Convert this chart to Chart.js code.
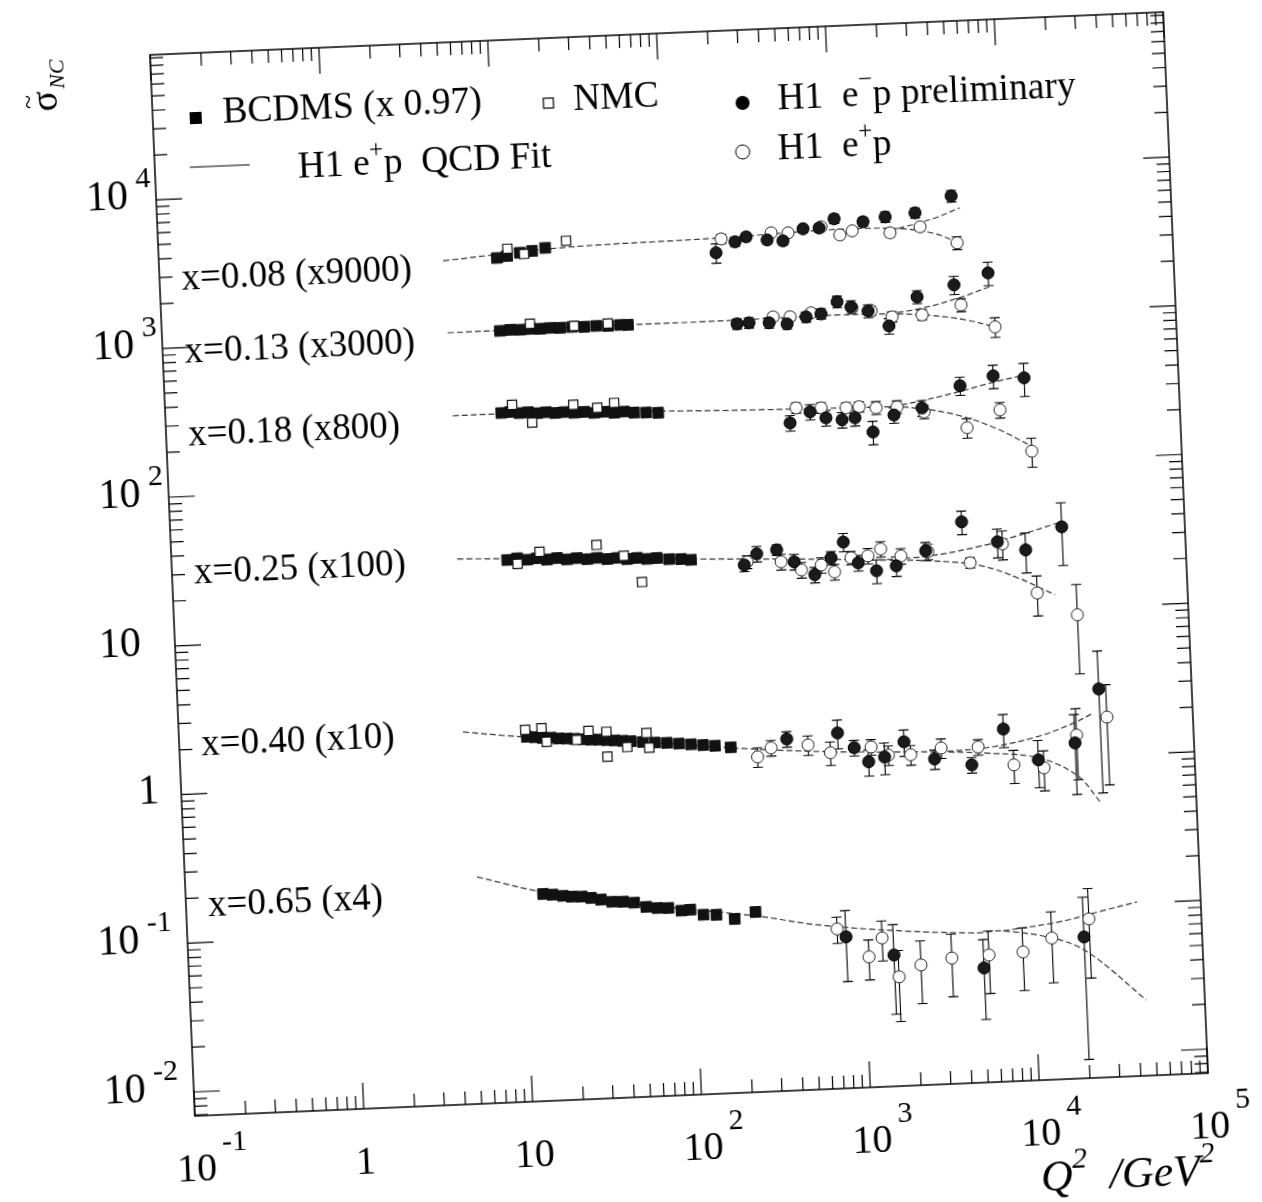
<!DOCTYPE html>
<html>
<head>
<meta charset="utf-8">
<script src="https://cdn.jsdelivr.net/npm/chart.js@4/dist/chart.umd.min.js"></script>
<style>
  html, body { margin: 0; padding: 0; background: #fff; width: 1262px; height: 1202px; overflow: hidden; }
  #wrap { position: absolute; left: 0; top: 0; width: 1262px; height: 1262px;
          transform: rotate(-2.42deg); transform-origin: 679px 564px; }
  canvas { display: block; }
</style>
</head>
<body>
<div id="wrap"><canvas id="chart" width="1262" height="1262"></canvas></div>
<script>
// axis ranges
const X_MIN = 0.1, X_MAX = 1e5;
const Y_MIN = 0.0069, Y_MAX = 94400;

// tick labels
const xTickValues = [0.1, 1, 10, 100, 1000, 10000, 100000];
const xTickBase = ['10', '1', '10', '10', '10', '10', '10'];
const xTickExp = ['-1', '', '', '2', '3', '4', '5'];
const yTickValues = [0.01, 0.1, 1, 10, 100, 1000, 10000];
const yTickBase = ['10', '10', '1', '10', '10', '10', '10'];
const yTickExp = ['-2', '-1', '', '', '2', '3', '4'];

// x bins
const rowLabels = ['x=0.08 (x9000)', 'x=0.13 (x3000)', 'x=0.18 (x800)', 'x=0.25 (x100)', 'x=0.40 (x10)', 'x=0.65 (x4)'];
const rowLabelSigma = [2850, 921, 255, 30.2, 2.11, 0.173];
const rowLabelQ2 = 0.135;

// BCDMS  [Q2, sigma]
const bcdms08 = [[10.0,3260],[11.5,3340],[13.7,3480],[16.2,3550],[19.4,3690]];
const bcdms13 = [[10.0,1054],[11.5,1064],[13.2,1058],[15.1,1066],[17.3,1060],[19.8,1068],[22.7,1062],[26.7,1069],[31.5,1062],[37.1,1069],[43.6,1061],[51.4,1069],[57.3,1064]];
const bcdms18 = [[9.7,296],[11.0,299],[12.4,292],[14.0,294],[15.8,288],[17.9,291],[20.2,286],[22.9,288],[26.2,283],[30.1,285],[34.4,279],[39.4,282],[45.2,276],[51.8,279],[59.3,273],[69.8,271],[82.2,268]];
const bcdms25 = [[9.66,30.4],[11.1,31.0],[12.7,30.1],[14.5,30.6],[16.6,29.8],[19.1,30.3],[21.8,29.5],[25.0,29.9],[28.7,29.2],[32.9,29.6],[37.7,28.9],[43.2,29.2],[49.4,28.5],[56.6,28.8],[64.9,28.2],[74.3,28.4],[87.5,27.7],[103,27.5],[118,27.0]];
const bcdms40 = [[11.4,1.95],[12.7,1.93],[14.1,1.90],[15.8,1.89],[17.6,1.86],[19.6,1.85],[21.8,1.83],[24.4,1.81],[27.2,1.79],[30.3,1.78],[33.7,1.76],[37.6,1.74],[42.0,1.72],[46.8,1.70],[55.1,1.67],[64.9,1.64],[76.4,1.62],[90.0,1.59],[106,1.56],[125,1.53],[147,1.50],[182,1.45]];
const bcdms65 = [[13.0,0.170],[14.8,0.167],[17.0,0.163],[19.2,0.160],[22.0,0.159],[24.9,0.155],[28.5,0.150],[33.1,0.144],[38.5,0.143],[44.7,0.140],[52.6,0.130],[61.1,0.127],[71.0,0.126],[84.7,0.120],[95.7,0.121],[114,0.111],[136,0.110],[174,0.102],[232,0.112]];

// NMC  [Q2, sigma]
const nmc08 = [[11.6,3730],[14.5,3410],[25.9,4060]];
const nmc13 = [[15.1,1152],[27.5,1085],[43.6,1100]];
const nmc18 = [[11.3,333],[14.7,250],[26,320],[36,301],[45.4,321]];
const nmc25 = [[11.1,28.4],[15.1,33.7],[32.9,36.2],[47.4,30.0],[59.8,19.8]];
const nmc40 = [[11.2,2.17],[14.0,2.21],[14.9,1.78],[22.5,1.80],[26.5,2.05],[33.8,2.00],[33.8,1.36],[44.5,1.56],[58.3,1.91],[60.0,1.52]];

// H1 e-p preliminary  [Q2, sigma, relative error]
const em08 = [[198,3060,0.15],[258,3580,0.07],[301,3840,0.06],[400,3610,0.06],[496,3520,0.06],[656,4190,0.06],[817,4200,0.06],[1007,4790,0.07],[1490,4490,0.07],[2020,4770,0.08],[3040,4980,0.08],[5020,6320,0.09]];
const em13 = [[253,1006,0.08],[298,1014,0.08],[392,1001,0.08],[500,973,0.08],[650,1071,0.08],[798,1111,0.08],[1000,1325,0.09],[1205,1214,0.1],[1517,1128,0.1],[2000,883,0.12],[2980,1357,0.1],[4960,1595,0.14],[7940,1878,0.18]];
const em18 = [[492,210,0.12],[650,246,0.12],[804,222,0.12],[1000,213,0.12],[1194,218,0.12],[1514,173,0.18],[2033,222,0.12],[2990,243,0.12],[5080,334,0.14],[8020,381,0.18],[12200,362,0.25]];
const em25 = [[243,24.1,0.1],[290,28.4,0.12],[381,29.8,0.08],[480,24.5,0.12],[631,19.8,0.12],[795,25.4,0.1],[948,32.2,0.14],[1148,23.1,0.12],[1467,20.2,0.18],[1924,21.5,0.15],[2895,26.6,0.14],[4800,40.7,0.18],[7720,29.2,0.22],[11300,25.3,0.3],[18700,35.3,0.45]];
const em40 = [[392,1.59,0.12],[785,1.69,0.22],[977,1.33,0.12],[1180,1.06,0.2],[1470,1.13,0.24],[1930,1.41,0.2],[2900,1.06,0.15],[4800,0.944,0.12],[7520,1.61,0.25],[11900,0.977,0.35],[19800,1.24,0.55],[28200,2.81,0.8]];
const em65 = [[784,0.0718,0.5],[1490,0.0526,0.6],[5040,0.0406,0.55],[20000,0.0614,0.85]];

// H1 e+p  [Q2, sigma, relative error]
const ep08 = [[214,3780,0.07],[424,4020,0.05],[534,3970,0.05],[840,4270,0.05],[1080,3720,0.05],[1280,3930,0.05],[2140,3720,0.06],[3230,4000,0.06],[5300,3050,0.1]];
const ep13 = [[415,1095,0.06],[523,1083,0.06],[698,1136,0.06],[1221,1195,0.06],[1581,1127,0.07],[2096,1013,0.08],[3155,1024,0.08],[5400,1165,0.1],[8470,811,0.15]];
const ep18 = [[538,264,0.08],[757,260,0.08],[1064,256,0.08],[1271,258,0.08],[1600,251,0.1],[2130,251,0.1],[3070,228,0.1],[5460,174,0.15],[8630,224,0.12],[13000,116,0.22]];
const ep25 = [[253,25.2,0.1],[402,24.7,0.12],[528,21.5,0.12],[693,22.9,0.12],[828,20.4,0.12],[1043,25.1,0.1],[1314,25.6,0.12],[1570,28.2,0.12],[2060,25.0,0.12],[2980,26.2,0.12],[5270,21.5,0.08],[8260,28.2,0.22],[12900,12.9,0.3],[22000,8.97,0.6]];
const ep40 = [[261,1.23,0.15],[315,1.40,0.12],[522,1.43,0.15],[705,1.25,0.18],[1230,1.33,0.12],[1550,1.16,0.15],[2100,1.15,0.15],[3190,1.25,0.15],[5280,1.24,0.12],[8510,0.919,0.25],[12800,0.861,0.3],[20300,1.40,0.5],[31000,1.81,0.65]];
const ep65 = [[697,0.0817,0.2],[1060,0.0519,0.3],[1280,0.0690,0.3],[1578,0.0374,0.5],[2140,0.0443,0.45],[3270,0.0483,0.45],[5430,0.0494,0.45],[8650,0.0507,0.45],[12900,0.0617,0.5],[21600,0.0809,0.6]];

// QCD fit curves (e+p branch and e-p branch)
const fitEp08 = [[4.8,3230],[24,3660],[210,3840],[950,4050],[2400,3950],[4000,3550],[5500,3000]];
const fitEm08 = [[2400,3950],[4000,4550],[5600,5230]];
const fitEp13 = [[4.9,1058],[50,1065],[153,1063],[500,1075],[1000,1080],[2000,1062],[3240,1023],[5500,930],[8470,811]];
const fitEm13 = [[2000,1062],[3240,1140],[5500,1320],[8000,1511]];
const fitEp18 = [[5,292],[10,292],[30,285],[80,275],[200,266],[500,260],[1000,256],[2000,252],[3000,240],[5000,210],[8000,170],[13600,122]];
const fitEm18 = [[2000,252],[3000,272],[5000,305],[8000,345],[12400,379]];
const fitEp25 = [[4.9,31.9],[30,29.5],[134,27.2],[500,25.5],[1500,23.8],[3000,22.8],[6000,20.5],[10000,16.5],[16400,12.4]];
const fitEm25 = [[1500,23.8],[3000,24.5],[6000,27.5],[10000,31.5],[17800,37.6]];
const fitEp40 = [[4.8,2.19],[8.7,2.01],[20,1.82],[60,1.65],[218,1.41],[785,1.26],[3060,1.18],[6000,1.12],[11900,1.01],[20000,0.75],[27000,0.49]];
const fitEm40 = [[3060,1.18],[6000,1.22],[11900,1.4],[20000,1.7],[25900,1.95]];
const fitEp65 = [[5.35,0.231],[13,0.175],[50,0.135],[236,0.105],[539,0.088],[1663,0.076],[4670,0.0701],[6660,0.0711],[14400,0.0596],[22100,0.0462],[44900,0.0223]];
const fitEm65 = [[6660,0.0711],[14400,0.0787],[25000,0.090],[42000,0.102]];

const SERIF = "'Liberation Serif', 'DejaVu Serif', serif";

function pts(arr) {
  return arr.map(p => ({ x: p[0], y: p[1], err: p[2] || 0 }));
}

const rows = [
  { bcdms: bcdms08, nmc: nmc08, em: em08, ep: ep08, fitEp: fitEp08, fitEm: fitEm08 },
  { bcdms: bcdms13, nmc: nmc13, em: em13, ep: ep13, fitEp: fitEp13, fitEm: fitEm13 },
  { bcdms: bcdms18, nmc: nmc18, em: em18, ep: ep18, fitEp: fitEp18, fitEm: fitEm18 },
  { bcdms: bcdms25, nmc: nmc25, em: em25, ep: ep25, fitEp: fitEp25, fitEm: fitEm25 },
  { bcdms: bcdms40, nmc: nmc40, em: em40, ep: ep40, fitEp: fitEp40, fitEm: fitEm40 },
  { bcdms: bcdms65, nmc: [], em: em65, ep: ep65, fitEp: fitEp65, fitEm: fitEm65 }
];

const datasets = [];
rows.forEach(r => {
  datasets.push({ label: 'H1 e-p', data: pts(r.em), pointStyle: 'circle', pointRadius: 6,
    backgroundColor: '#1a1a1a', borderColor: '#000', borderWidth: 1, showLine: false, errorBars: true, order: 0 });
  datasets.push({ label: 'H1 e+p', data: pts(r.ep), pointStyle: 'circle', pointRadius: 6,
    backgroundColor: '#fff', borderColor: '#222', borderWidth: 1, showLine: false, errorBars: true, order: 1 });
  datasets.push({ label: 'BCDMS', data: pts(r.bcdms), pointStyle: 'rect', pointRadius: 7.5,
    backgroundColor: '#111', borderColor: '#111', borderWidth: 1, showLine: false, order: 2 });
  datasets.push({ label: 'NMC', data: pts(r.nmc), pointStyle: 'rect', pointRadius: 6.5,
    backgroundColor: '#fff', borderColor: '#111', borderWidth: 1.2, showLine: false, order: 1 });
  [r.fitEp, r.fitEm].forEach(f => {
    datasets.push({ label: 'fit', data: pts(f), showLine: true, pointRadius: 0, borderColor: '#333',
      borderWidth: 1.2, borderDash: [6, 3], tension: 0.35, fill: false, order: 5 });
  });
});

// error bars under the markers
const errorBarPlugin = {
  id: 'errorBars',
  beforeDatasetsDraw(chart) {
    const ctx = chart.ctx, xs = chart.scales.x, ys = chart.scales.y;
    ctx.save();
    ctx.strokeStyle = '#000';
    ctx.lineWidth = 1.1;
    chart.data.datasets.forEach(ds => {
      if (!ds.errorBars) return;
      ds.data.forEach(p => {
        if (!p.err) return;
        const px = xs.getPixelForValue(p.x);
        const hi = ys.getPixelForValue(p.y * (1 + p.err));
        const loVal = p.y * (1 - p.err);
        const lo = loVal > Y_MIN ? ys.getPixelForValue(loVal) : chart.chartArea.bottom;
        ctx.beginPath();
        ctx.moveTo(px, hi); ctx.lineTo(px, lo);
        ctx.moveTo(px - 5, hi); ctx.lineTo(px + 5, hi);
        ctx.moveTo(px - 5, lo); ctx.lineTo(px + 5, lo);
        ctx.stroke();
      });
    });
    ctx.restore();
  }
};

function rich(ctx, x, y, parts) {
  let cx = x;
  parts.forEach(([t, f, dy]) => {
    ctx.font = f;
    ctx.fillText(t, cx, y + (dy || 0));
    cx += ctx.measureText(t).width;
  });
  return cx;
}
function richWidth(ctx, parts) {
  let w = 0;
  parts.forEach(([t, f]) => { ctx.font = f; w += ctx.measureText(t).width; });
  return w;
}

// frame, ticks, labels, legend
const framePlugin = {
  id: 'frame',
  afterDraw(chart) {
    const ctx = chart.ctx, a = chart.chartArea, xs = chart.scales.x, ys = chart.scales.y;
    ctx.save();
    ctx.strokeStyle = '#000';
    ctx.fillStyle = '#000';
    ctx.lineWidth = 1.5;
    ctx.strokeRect(a.left, a.top, a.right - a.left, a.bottom - a.top);

    ctx.lineWidth = 1.2;
    ctx.beginPath();
    for (let d = -1; d <= 5; d++) {
      for (let m = 1; m <= 9; m++) {
        const v = m * Math.pow(10, d);
        if (v < X_MIN * 0.999 || v > X_MAX * 1.001) continue;
        const px = xs.getPixelForValue(v);
        const len = m === 1 ? 26 : 13;
        ctx.moveTo(px, a.bottom); ctx.lineTo(px, a.bottom - len);
        ctx.moveTo(px, a.top); ctx.lineTo(px, a.top + len);
      }
    }
    for (let d = -3; d <= 4; d++) {
      for (let m = 1; m <= 9; m++) {
        const v = m * Math.pow(10, d);
        if (v < Y_MIN || v > Y_MAX) continue;
        const py = ys.getPixelForValue(v);
        const len = m === 1 ? 26 : 13;
        ctx.moveTo(a.left, py); ctx.lineTo(a.left + len, py);
        ctx.moveTo(a.right, py); ctx.lineTo(a.right - len, py);
      }
    }
    ctx.stroke();

    // x tick labels
    const xBase = '40px ' + SERIF, xExp = '30px ' + SERIF;
    ctx.textBaseline = 'middle';
    xTickValues.forEach((v, i) => {
      const px = xs.getPixelForValue(v);
      const y = a.bottom + 54;
      ctx.font = xBase;
      ctx.textAlign = 'center';
      ctx.fillText(xTickBase[i], px, y);
      if (xTickExp[i]) {
        const w = ctx.measureText(xTickBase[i]).width;
        ctx.font = xExp;
        ctx.textAlign = 'left';
        ctx.fillText(xTickExp[i], px + w / 2 + 6, y - 26);
      }
    });

    // y tick labels
    const yBase = '42px ' + SERIF, yExp = '30px ' + SERIF;
    yTickValues.forEach((v, i) => {
      const py = ys.getPixelForValue(v);
      const e = yTickExp[i];
      const right = e ? (e[0] === '-' ? a.left - 48 : a.left - 28) : (yTickBase[i] === '1' ? a.left - 22 : a.left - 34);
      ctx.font = yBase;
      ctx.textAlign = 'right';
      ctx.fillText(yTickBase[i], right, py - 3);
      if (e) {
        ctx.font = yExp;
        ctx.textAlign = 'left';
        ctx.fillText(e, right + 8, py - 21);
      }
    });

    // row labels
    ctx.font = '37px ' + SERIF;
    ctx.textAlign = 'left';
    rowLabels.forEach((t, i) => {
      ctx.fillText(t, xs.getPixelForValue(rowLabelQ2), ys.getPixelForValue(rowLabelSigma[i]));
    });

    // legend
    const F = '37.5px ' + SERIF, S = '25px ' + SERIF;
    const L = (u) => a.left + u, T = (v) => a.top + v;
    ctx.font = F;
    ctx.fillRect(L(43) - 6, T(65) - 6, 12, 12);
    ctx.fillText('BCDMS (x 0.97)', L(70), T(61));
    ctx.lineWidth = 1.2;
    ctx.strokeRect(L(396) - 5, T(65) - 5, 10, 10);
    ctx.fillText('NMC', L(421), T(63));
    ctx.beginPath();
    ctx.moveTo(L(35), T(114)); ctx.lineTo(L(95), T(114));
    ctx.stroke();
    rich(ctx, L(143), T(119), [['H1 e', F], ['+', S, -14], ['p  QCD Fit', F]]);
    ctx.beginPath(); ctx.arc(L(590), T(73), 7, 0, Math.PI * 2); ctx.fill();
    rich(ctx, L(625), T(71), [['H1  e', F], ['\u2212', S, -16], ['p preliminary', F]]);
    ctx.beginPath(); ctx.arc(L(588), T(122), 7, 0, Math.PI * 2);
    ctx.lineWidth = 1; ctx.stroke();
    rich(ctx, L(623), T(121), [['H1  e', F], ['+', S, -14], ['p', F]]);

    // y axis title (rotated)
    ctx.save();
    ctx.translate(a.left - 105, a.top + 42);
    ctx.rotate(-Math.PI / 2);
    ctx.textAlign = 'center';
    ctx.font = '38px ' + SERIF;
    ctx.fillText('\u03c3', 0, 0);
    ctx.font = '26px ' + SERIF;
    ctx.fillText('~', 0, -18);
    ctx.font = 'italic 22px ' + SERIF;
    ctx.textAlign = 'left';
    ctx.fillText('NC', 12, 12);
    ctx.restore();

    // x axis title
    const IF = 'italic 44px ' + SERIF, IS = 'italic 30px ' + SERIF;
    const tparts = [['Q', IF], ['2', IS, -18], ['  /GeV', IF], ['2', IS, -18]];
    const tw = richWidth(ctx, tparts);
    ctx.textAlign = 'left';
    rich(ctx, a.left + 1017 - tw, a.bottom + 99, tparts);

    ctx.restore();
  }
};

new Chart(document.getElementById('chart'), {
  type: 'scatter',
  data: { datasets },
  options: {
    responsive: false,
    animation: false,
    devicePixelRatio: 1,
    layout: { padding: { left: 172, top: 33, right: 76, bottom: 167 } },
    plugins: { legend: { display: false }, tooltip: { enabled: false } },
    scales: {
      x: { type: 'logarithmic', min: X_MIN, max: X_MAX, display: false },
      y: { type: 'logarithmic', min: Y_MIN, max: Y_MAX, display: false }
    }
  },
  plugins: [errorBarPlugin, framePlugin]
});
</script>
</body>
</html>
